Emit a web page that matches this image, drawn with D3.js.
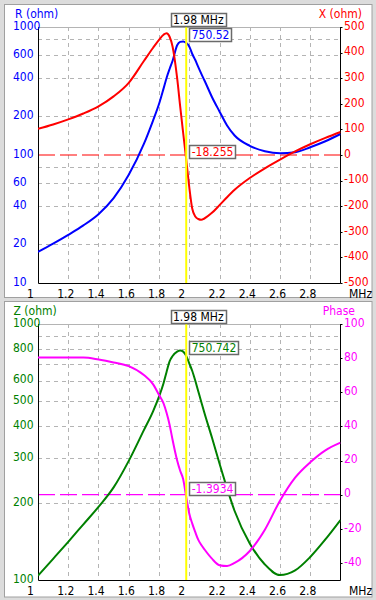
<!DOCTYPE html>
<html>
<head>
<meta charset="utf-8">
<script src="https://cdn.jsdelivr.net/npm/d3@7"></script>
<style>
  body { margin: 0; background: #dcdcdc; }
  svg { display: block; font-family: "Liberation Sans Narrow", "Arial Narrow", "DejaVu Sans Condensed", sans-serif; font-size: 12px; }
</style>
</head>
<body>
<div id="chart"></div>
<script>
// frequency sweep (MHz) and values
const freq       = [1.0, 1.1, 1.2, 1.3, 1.4, 1.5, 1.6, 1.7, 1.76, 1.8, 1.83, 1.85, 1.87, 1.89, 1.92, 1.94, 1.96, 1.98, 2.0, 2.02, 2.04, 2.06, 2.08, 2.1, 2.15, 2.2, 2.25, 2.3, 2.4, 2.5, 2.6, 2.7, 2.8, 2.9, 3.0];
const resistance = [17.5, 20.3, 23.8, 28.2, 34.5, 46, 70, 122, 185, 250, 330, 400, 470, 545, 720, 765, 772, 750.52, 705, 615, 552, 485, 430, 384, 284, 219, 170, 142, 118, 107, 103, 105, 115, 128, 146];
const reactance  = [102, 119, 139, 162, 190, 229, 282, 367, 418, 450, 470, 476, 462, 423, 300, 190, 85, -18.255, -125, -210, -240, -250, -253, -248, -226, -196, -165, -136, -90, -52, -18, 14, 42, 67, 90];
const impedance  = [104, 121, 141, 165, 193, 230, 292, 385, 455, 520, 587, 650, 715, 750, 780, 788, 780, 750.742, 702, 655, 600, 545, 495, 450, 360, 285, 228, 186, 139, 115, 104.5, 109, 123, 144, 171.5];
const phase      = [80.3, 80.3, 80.3, 80.3, 79.2, 77.5, 75.3, 70.1, 64.8, 58.5, 53.5, 48, 41, 32, 20, 14, 9, -1.3934, -11, -17, -22, -26.5, -29.5, -32, -37.5, -41.3, -41.8, -40, -33, -20.5, -3.5, 10, 19, 26, 30.5];

const cursorFreq = 1.98;
const cursorR = 750.52, cursorX = -18.255, cursorZ = 750.742, cursorPhase = -1.3934;

const freqTicks  = [1, 1.2, 1.4, 1.6, 1.8, 2, 2.2, 2.4, 2.6, 2.8];
const rTicks     = [1000, 600, 400, 200, 100, 60, 40, 20, 10];
const rGrid      = [800, 600, 400, 200, 80, 60, 40, 20];
const xTicks     = [500, 400, 300, 200, 100, 0, -100, -200, -300, -400, -500];
const zTicks     = [1000, 800, 600, 500, 400, 300, 200, 100];
const zGrid      = [900, 800, 700, 600, 500, 400, 300, 200];
const phaseTicks = [100, 80, 60, 40, 20, 0, -20, -40];

const width = 376, height = 600;
const left = 38, right = 340.5;

const svg = d3.select("#chart")
  .append("svg")
  .attr("width", width)
  .attr("height", height);

// window panels
svg.append("rect").attr("x", 4.5).attr("y", 4.5).attr("width", 367.5).attr("height", 293)
  .attr("fill", "white").attr("stroke", "#a0a0a0");
svg.append("rect").attr("x", 4.5).attr("y", 301.5).attr("width", 367.5).attr("height", 295.5)
  .attr("fill", "white").attr("stroke", "#a0a0a0");

let x = d3.scaleLinear().domain([1, 3]).range([left, right]);

function drawPanel(p) {
  const g = svg.append("g");
  const clipId = "clip" + p.id;
  svg.append("clipPath").attr("id", clipId)
    .append("rect").attr("x", left).attr("y", p.top).attr("width", right - left).attr("height", p.bottom - p.top);

  // grid
  g.append("g")
    .selectAll("line")
    .data(p.gridL)
    .join("line")
    .attr("x1", left).attr("x2", right)
    .attr("y1", d => Math.round(p.yL(d)) + 0.5).attr("y2", d => Math.round(p.yL(d)) + 0.5)
    .attr("stroke", "#b4b4b4").attr("stroke-dasharray", "4,4");

  g.append("g")
    .selectAll("line")
    .data(freqTicks.slice(1))
    .join("line")
    .attr("x1", d => Math.round(x(d)) + 0.5).attr("x2", d => Math.round(x(d)) + 0.5)
    .attr("y1", p.top).attr("y2", p.bottom)
    .attr("stroke", "#b4b4b4").attr("stroke-dasharray", "4,4");

  // zero line of right axis
  g.append("line")
    .attr("x1", left).attr("x2", right)
    .attr("y1", p.yR(0)).attr("y2", p.yR(0))
    .attr("stroke", p.colorR).attr("stroke-width", 1.2).attr("stroke-dasharray", "17,5");

  // frame
  g.append("line").attr("x1", left).attr("x2", right).attr("y1", p.top + 0.5).attr("y2", p.top + 0.5).attr("stroke", "#b4b4b4");
  g.append("path")
    .attr("d", `M${left + 0.5},${p.top}V${p.bottom + 0.5}H${right}V${p.top}`)
    .attr("fill", "none").attr("stroke", "black");

  // right axis ticks
  g.append("g")
    .selectAll("line")
    .data(p.ticksR)
    .join("line")
    .attr("x1", right).attr("x2", right + 2)
    .attr("y1", d => Math.round(p.yR(d)) + 0.5).attr("y2", d => Math.round(p.yR(d)) + 0.5)
    .attr("stroke", "black");

  // curves
  const lineL = d3.line().x((d, i) => x(freq[i])).y(d => p.yL(d)).curve(d3.curveMonotoneX);
  const lineR = d3.line().x((d, i) => x(freq[i])).y(d => p.yR(d)).curve(d3.curveMonotoneX);
  const curves = g.append("g").attr("clip-path", `url(#${clipId})`);
  curves.append("path").datum(p.dataL).attr("d", lineL)
    .attr("fill", "none").attr("stroke", p.colorL).attr("stroke-width", 2);
  curves.append("path").datum(p.dataR).attr("d", lineR)
    .attr("fill", "none").attr("stroke", p.colorR).attr("stroke-width", 2);

  // tick labels
  g.append("g")
    .selectAll("text")
    .data(p.ticksL)
    .join("text")
    .attr("x", 13).attr("y", d => p.yL(d) - 1.5).attr("dy", "0.35em")
    .attr("fill", p.colorL)
    .text(d => d);

  g.append("g")
    .selectAll("text")
    .data(p.ticksR)
    .join("text")
    .attr("x", 344).attr("y", d => p.yR(d) - 1.5).attr("dy", "0.35em")
    .attr("fill", p.colorR)
    .text(d => d);

  g.append("g")
    .selectAll("text")
    .data(freqTicks)
    .join("text")
    .attr("x", d => x(d) - 11).attr("y", p.bottom + 14.5)
    .attr("fill", "black")
    .text(d => d);
  g.append("text").attr("x", 349).attr("y", p.bottom + 14.5).text("MHz");

  g.append("text").attr("x", p.titleLx).attr("y", p.top - 9.5).attr("fill", p.colorL).text(p.titleL);
  g.append("text").attr("x", p.titleRx).attr("y", p.top - 9.5).attr("fill", p.colorR)
    .attr("text-anchor", "end").text(p.titleR);

  // cursor
  const cx = x(cursorFreq);
  g.append("line")
    .attr("x1", cx).attr("x2", cx).attr("y1", p.top - 2).attr("y2", p.bottom)
    .attr("stroke", "#ffff00").attr("stroke-width", 2);

  labelBox(g, 170.5, p.top - 14.5, cursorFreq.toFixed(2) + " MHz", "black");
  labelBox(g, cx + 3, p.yL(p.cursorL) - 15, String(p.cursorL), p.colorL);
  labelBox(g, cx + 3, p.yR(p.cursorR) - 15, String(p.cursorR), p.colorR);
}

function labelBox(g, bx, by, txt, color) {
  const b = g.append("g");
  const rect = b.append("rect").attr("fill", "white").attr("stroke", "#6a6a6a").attr("stroke-width", 1.5);
  const t = b.append("text").attr("x", bx + 2.5).attr("y", by + 11).attr("fill", color).text(txt);
  const w = t.node().getComputedTextLength();
  rect.attr("x", Math.round(bx) + 0.5).attr("y", Math.round(by) + 0.5)
    .attr("width", Math.round(w + 4)).attr("height", 13);
}

drawPanel({
  id: "top", top: 27, bottom: 283,
  yL: d3.scaleLog().domain([10, 1000]).range([283, 27]),
  yR: d3.scaleLinear().domain([-500, 500]).range([283, 27]),
  gridL: rGrid, ticksL: rTicks, ticksR: xTicks,
  dataL: resistance, dataR: reactance,
  colorL: "#0000ff", colorR: "#ff0000",
  titleL: "R (ohm)", titleR: "X (ohm)", titleLx: 15, titleRx: 362,
  cursorL: cursorR, cursorR: cursorX
});

drawPanel({
  id: "bottom", top: 324, bottom: 580,
  yL: d3.scaleLog().domain([100, 1000]).range([580, 324]),
  yR: d3.scaleLinear().domain([-50, 100]).range([580, 324]),
  gridL: zGrid, ticksL: zTicks, ticksR: phaseTicks,
  dataL: impedance, dataR: phase,
  colorL: "#008000", colorR: "#ff00ff",
  titleL: "Z (ohm)", titleR: "Phase", titleLx: 13.5, titleRx: 355,
  cursorL: cursorZ, cursorR: cursorPhase
});
</script>
</body>
</html>
